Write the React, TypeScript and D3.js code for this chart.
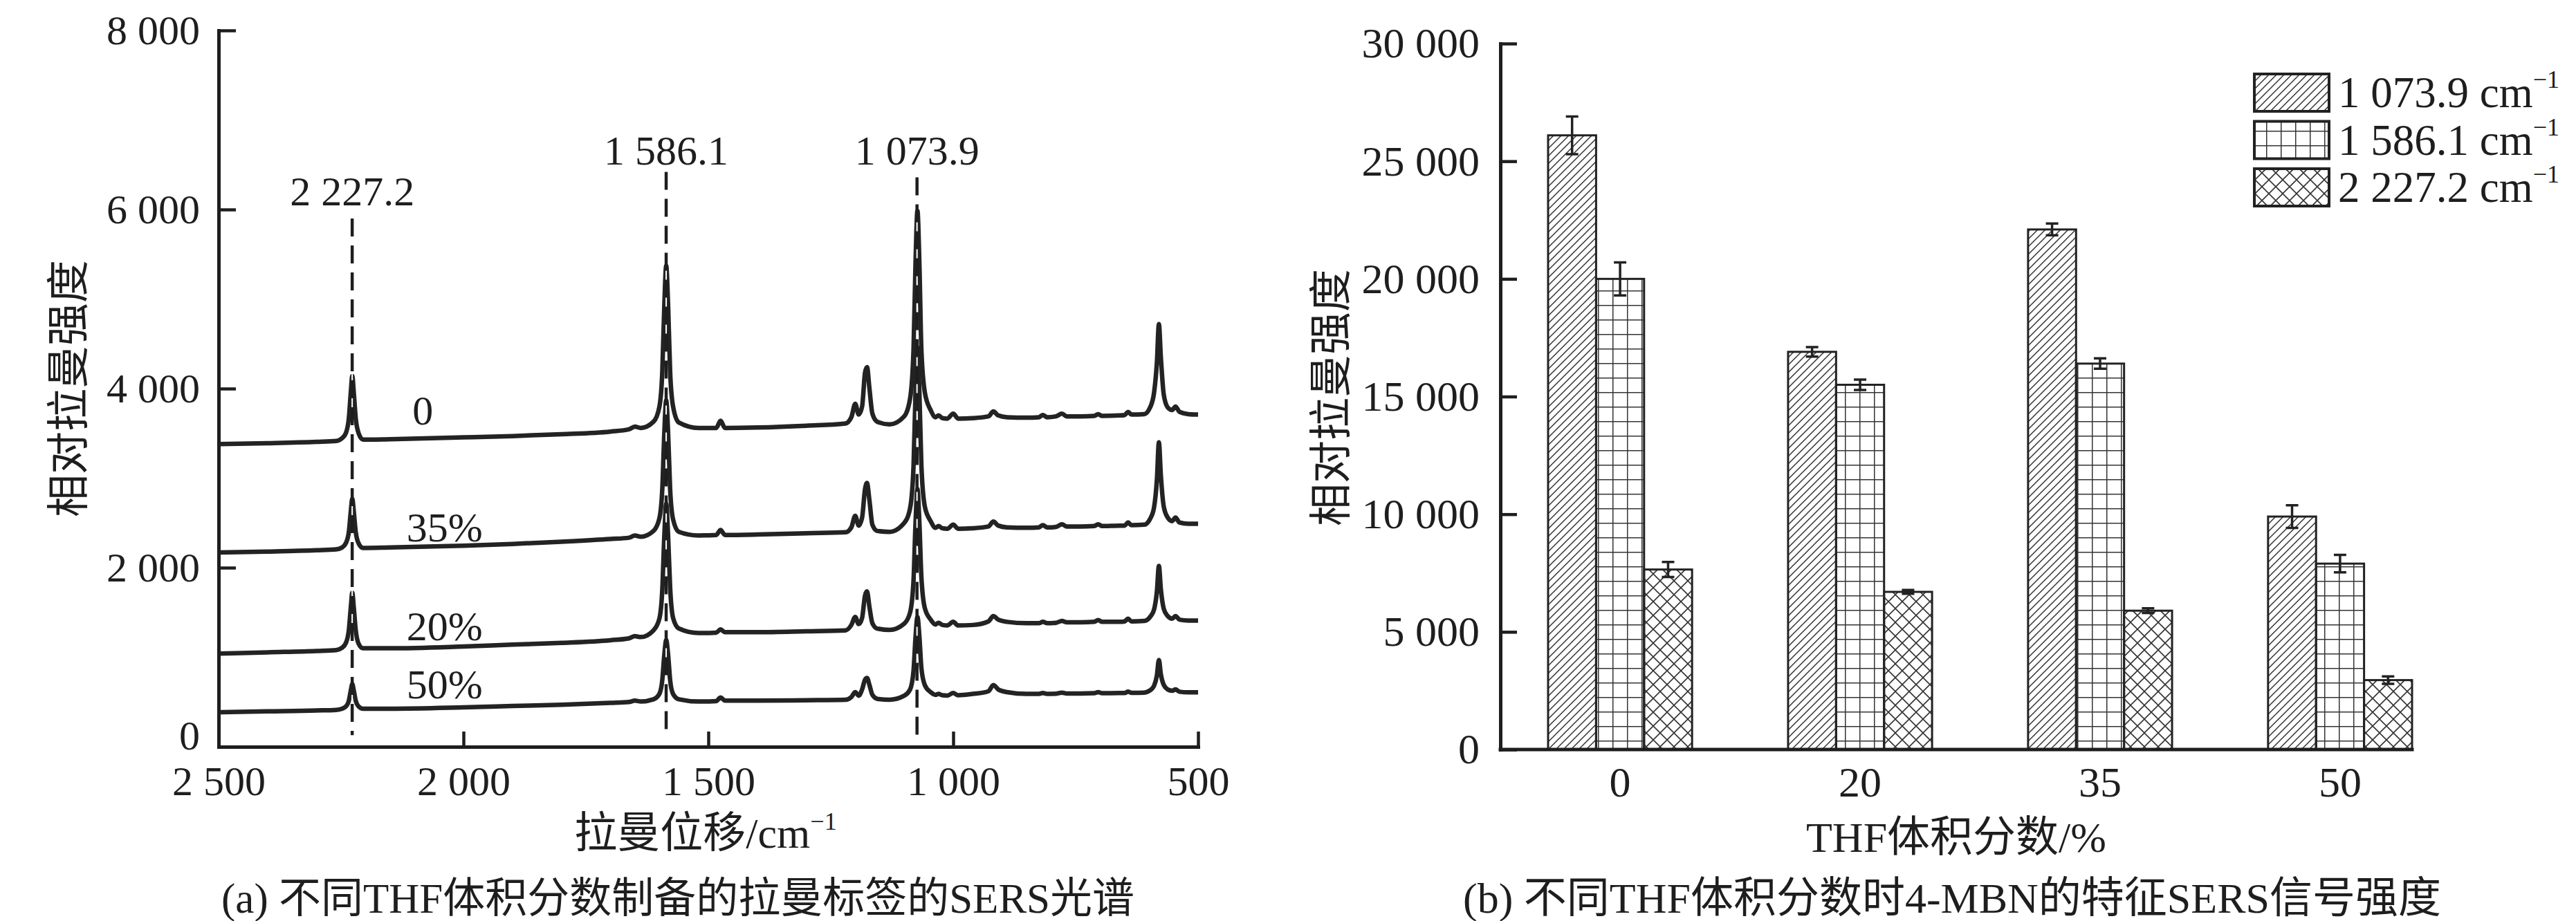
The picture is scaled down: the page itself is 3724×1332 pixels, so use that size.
import React, { useEffect, useRef } from 'react';
import * as d3 from 'd3';

// ---- (a) SERS spectra ----
// Raman shift grid (cm-1), shared by all four spectra
const shifts = [
  2500, 2400, 2300, 2260, 2248, 2240, 2234, 2230, 2227, 2224, 2220, 2214, 2205, 2150, 2000, 1900,
  1800, 1700, 1662, 1650, 1638, 1612, 1600, 1594, 1590, 1586, 1582, 1578, 1572, 1560, 1520, 1484,
  1475, 1466, 1400, 1300, 1220, 1208, 1200, 1193, 1186, 1180, 1176, 1171, 1165, 1155, 1130, 1100,
  1088, 1081, 1077, 1073, 1069, 1065, 1058, 1046, 1036, 1030, 1022, 1012, 1000, 990, 960, 928,
  918, 908, 890, 850, 825, 817, 808, 790, 778, 768, 740, 712, 704, 696, 660, 650,
  643, 636, 610, 598, 590, 584, 580, 576, 570, 562, 553, 546, 538, 520, 500,
];
const spec0 = [
  3380, 3390, 3405, 3415, 3445, 3505, 3670, 3960, 4140, 3960, 3670, 3500, 3430, 3435, 3455, 3470,
  3490, 3520, 3545, 3575, 3560, 3630, 3795, 4190, 4910, 5370, 4910, 4190, 3800, 3620, 3560, 3560,
  3640, 3560, 3565, 3585, 3610, 3680, 3830, 3710, 3800, 4180, 4240, 4000, 3720, 3630, 3600, 3690,
  3890, 4440, 5390, 5985, 5390, 4440, 3960, 3760, 3680, 3700, 3670, 3665, 3720, 3665, 3670, 3690,
  3745, 3700, 3680, 3675, 3680, 3705, 3680, 3690, 3720, 3690, 3690, 3695, 3715, 3695, 3700, 3705,
  3740, 3710, 3715, 3790, 3950, 4300, 4720, 4350, 3930, 3790, 3760, 3800, 3740, 3715, 3710,
];
const spec35 = [
  2170, 2180, 2195, 2205, 2225, 2275, 2400, 2630, 2770, 2630, 2400, 2270, 2220, 2225, 2245, 2265,
  2290, 2320, 2335, 2360, 2345, 2410, 2550, 2880, 3490, 3870, 3490, 2880, 2540, 2400, 2360, 2365,
  2420, 2365, 2370, 2385, 2395, 2450, 2580, 2470, 2560, 2880, 2945, 2750, 2480, 2410, 2400, 2500,
  2665, 3134, 3950, 4460, 3950, 3150, 2685, 2520, 2445, 2465, 2440, 2435, 2480, 2435, 2440, 2460,
  2515, 2470, 2450, 2445, 2450, 2475, 2450, 2455, 2485, 2460, 2460, 2465, 2485, 2465, 2470, 2470,
  2505, 2475, 2480, 2545, 2670, 2990, 3400, 3030, 2680, 2560, 2520, 2560, 2505, 2490, 2490,
];
const spec20 = [
  1040, 1055, 1070, 1080, 1105, 1160, 1305, 1560, 1720, 1560, 1305, 1150, 1100, 1100, 1120, 1140,
  1160, 1190, 1210, 1235, 1225, 1300, 1430, 1755, 2340, 2714, 2340, 1780, 1440, 1320, 1270, 1275,
  1310, 1280, 1280, 1290, 1300, 1360, 1450, 1370, 1440, 1690, 1735, 1560, 1380, 1320, 1305, 1375,
  1500, 1860, 2490, 2880, 2500, 1900, 1550, 1420, 1365, 1385, 1360, 1355, 1395, 1355, 1360, 1400,
  1460, 1420, 1395, 1380, 1380, 1395, 1380, 1385, 1405, 1390, 1390, 1395, 1415, 1395, 1395, 1400,
  1430, 1400, 1405, 1450, 1530, 1740, 2020, 1760, 1540, 1460, 1430, 1460, 1420, 1410, 1410,
];
const spec50 = [
  385, 395, 405, 412, 425, 450, 515, 630, 700, 630, 515, 450, 425, 425, 440, 455,
  470, 490, 500, 515, 505, 530, 590, 745, 1020, 1192, 1020, 745, 590, 530, 505, 510,
  550, 515, 515, 520, 525, 555, 610, 570, 640, 750, 769, 690, 580, 535, 525, 570,
  640, 850, 1220, 1450, 1230, 880, 690, 610, 580, 590, 575, 572, 600, 575, 590, 620,
  690, 640, 610, 590, 590, 600, 590, 592, 605, 595, 595, 598, 610, 598, 600, 600,
  615, 602, 605, 630, 680, 800, 970, 810, 690, 640, 625, 640, 615, 608, 608,
];
const spectra = [spec0, spec35, spec20, spec50];
const spectraLabels = ['0', '35%', '20%', '50%'];
const labelShift = [2104, 2116, 2116, 2116];
const labelLevel = [3600, 2290, 1190, 540];

const peakMarks = [2227.2, 1586.1, 1073.9];
const peakLabels = ['2 227.2', '1 586.1', '1 073.9'];
const markTop = [5900, 6420, 6360];
const markLabelAt = [6050, 6500, 6500];

const shiftTicks = [2500, 2000, 1500, 1000, 500];
const intensityTicks = [0, 2000, 4000, 6000, 8000];

// ---- (b) characteristic band intensities ----
const thfCats = ['0', '20', '35', '50'];
const bandNames = ['1 073.9', '1 586.1', '2 227.2'];
const band1074 = [26100, 16900, 22100, 9900];
const band1586 = [20000, 15500, 16400, 7900];
const band2227 = [7650, 6700, 5900, 2950];
const err1074 = [800, 200, 250, 480];
const err1586 = [700, 220, 220, 370];
const err2227 = [320, 80, 100, 160];
const barTicks = [0, 5000, 10000, 15000, 20000, 25000, 30000];

const W = 3724;
const H = 1332;
const FONT = '"Liberation Serif", "Times New Roman", "Noto Sans CJK SC", serif';
const INK = '#1e1e1e';

const fmt = (d: d3.NumberValue) => d3.format(',')(d as number).replace(/,/g, ' ');

const App: React.FC = () => {
  const svgRef = useRef<SVGSVGElement>(null);

  useEffect(() => {
    const svg = d3.select(svgRef.current);
    svg.selectAll('*').remove();
    svg.attr('width', W).attr('height', H).attr('font-family', FONT).style('background', '#fff');

    // hatch patterns
    const defs = svg.append('defs');
    const diag = defs.append('pattern').attr('id', 'p-diag').attr('patternUnits', 'userSpaceOnUse')
      .attr('width', 11).attr('height', 11);
    diag.append('path').attr('d', 'M-1,1 L1,-1 M0,11 L11,0 M10,12 L12,10')
      .attr('stroke', '#333').attr('stroke-width', 1.5);
    const grid = defs.append('pattern').attr('id', 'p-grid').attr('patternUnits', 'userSpaceOnUse')
      .attr('width', 21).attr('height', 21);
    grid.append('path').attr('d', 'M0,0.75 H21 M0.75,0 V21')
      .attr('stroke', '#333').attr('stroke-width', 1.5);
    const cross = defs.append('pattern').attr('id', 'p-cross').attr('patternUnits', 'userSpaceOnUse')
      .attr('width', 20).attr('height', 20);
    cross.append('path').attr('d', 'M0,0 L20,20 M20,0 L0,20')
      .attr('stroke', '#333').attr('stroke-width', 1.6);
    const fills = ['url(#p-diag)', 'url(#p-grid)', 'url(#p-cross)'];

    // ================= (a) spectra =================
    const xs = d3.scaleLinear().domain([2500, 500]).range([316, 1732]);
    const ys = d3.scaleLinear().domain([0, 8000]).range([1080, 44]);

    const gA = svg.append('g');

    const line = d3.line<[number, number]>()
      .x(d => xs(d[0]))
      .y(d => ys(d[1]))
      .curve(d3.curveMonotoneX);

    spectra.forEach(s => {
      gA.append('path')
        .datum(d3.zip(shifts, s) as [number, number][])
        .attr('d', line)
        .attr('fill', 'none')
        .attr('stroke', '#232323')
        .attr('stroke-width', 6.5)
        .attr('stroke-linejoin', 'round');
    });

    // dashed peak markers
    peakMarks.forEach((p, i) => {
      gA.append('line')
        .attr('x1', xs(p)).attr('x2', xs(p))
        .attr('y1', ys(markTop[i])).attr('y2', ys(130))
        .attr('stroke', '#fff').attr('stroke-width', 2);
      gA.append('line')
        .attr('x1', xs(p)).attr('x2', xs(p))
        .attr('y1', ys(markTop[i])).attr('y2', ys(130))
        .attr('stroke', INK).attr('stroke-width', 4.5)
        .attr('stroke-dasharray', '26 13');
      gA.append('text')
        .attr('x', xs(p)).attr('y', ys(markLabelAt[i]))
        .attr('text-anchor', 'middle').attr('font-size', 60).attr('fill', INK)
        .text(peakLabels[i]);
    });

    spectraLabels.forEach((t, i) => {
      gA.append('text')
        .attr('x', xs(labelShift[i])).attr('y', ys(labelLevel[i]))
        .attr('font-size', 60).attr('fill', INK)
        .text(t);
    });

    const xAxA = gA.append('g').attr('transform', 'translate(0,1080)')
      .call(d3.axisBottom(xs).tickValues(shiftTicks).tickSizeInner(-22).tickSizeOuter(0)
        .tickPadding(27).tickFormat(fmt));
    const yAxA = gA.append('g').attr('transform', 'translate(316,0)')
      .call(d3.axisLeft(ys).tickValues(intensityTicks).tickSizeInner(-25).tickSizeOuter(0)
        .tickPadding(27).tickFormat(fmt));
    [xAxA, yAxA].forEach(ax => {
      ax.attr('font-family', FONT).attr('font-size', 60);
      ax.select('.domain').attr('stroke', INK).attr('stroke-width', 5).attr('stroke-linecap', 'square');
      ax.selectAll('.tick line').attr('stroke', INK).attr('stroke-width', 4.5);
      ax.selectAll('.tick text').attr('fill', INK);
    });
    // the "0" label sits a little above the x axis, clear of "2 500"
    yAxA.selectAll<SVGTextElement, number>('.tick text').filter(d => d === 0).attr('y', -16);

    gA.append('text')
      .attr('transform', 'translate(100,562) rotate(-90)')
      .attr('text-anchor', 'middle').attr('dominant-baseline', 'central')
      .attr('font-size', 62).attr('fill', INK)
      .text('相对拉曼强度');

    const xtA = gA.append('text')
      .attr('x', 1020).attr('y', 1226).attr('text-anchor', 'middle')
      .attr('font-size', 62).attr('fill', INK);
    xtA.append('tspan').text('拉曼位移/cm');
    xtA.append('tspan').attr('dy', -26).attr('font-size', 36).text('−1');

    gA.append('text')
      .attr('x', 980).attr('y', 1320).attr('text-anchor', 'middle')
      .attr('font-size', 61).attr('fill', INK)
      .text('(a) 不同THF体积分数制备的拉曼标签的SERS光谱');

    // ================= (b) bars =================
    const values = [band1074, band1586, band2227];
    const errors = [err1074, err1586, err2227];
    const xb = d3.scaleBand().domain(thfCats).range([2238, 3487]).paddingInner(0.4).paddingOuter(0);
    const xsub = d3.scaleBand<number>().domain([0, 1, 2]).range([0, xb.bandwidth()]);
    const yb = d3.scaleLinear().domain([0, 30000]).range([1084, 63]);

    const gB = svg.append('g');

    values.forEach((vals, s) => {
      gB.selectAll(`rect.s${s}`)
        .data(vals)
        .enter()
        .append('rect')
        .attr('x', (_, i) => (xb(thfCats[i]) || 0) + (xsub(s) || 0))
        .attr('y', d => yb(d))
        .attr('width', xsub.bandwidth())
        .attr('height', d => yb(0) - yb(d))
        .attr('fill', fills[s])
        .attr('stroke', '#222')
        .attr('stroke-width', 3);
    });

    values.forEach((vals, s) => {
      vals.forEach((v, i) => {
        const cx = (xb(thfCats[i]) || 0) + (xsub(s) || 0) + xsub.bandwidth() / 2;
        const lo = yb(v - errors[s][i]);
        const hi = yb(v + errors[s][i]);
        gB.append('path')
          .attr('d', `M${cx},${lo}V${hi}M${cx - 9},${lo}H${cx + 9}M${cx - 9},${hi}H${cx + 9}`)
          .attr('fill', 'none').attr('stroke', '#222').attr('stroke-width', 3.5);
      });
    });

    // axes
    gB.append('line')
      .attr('x1', 2169).attr('x2', 3487).attr('y1', yb(0)).attr('y2', yb(0))
      .attr('stroke', INK).attr('stroke-width', 5).attr('stroke-linecap', 'square');
    const yAxB = gB.append('g').attr('transform', 'translate(2169,0)')
      .call(d3.axisLeft(yb).tickValues(barTicks).tickSizeInner(-24).tickSizeOuter(0)
        .tickPadding(30).tickFormat(fmt));
    yAxB.attr('font-family', FONT).attr('font-size', 62);
    yAxB.select('.domain').attr('stroke', INK).attr('stroke-width', 5).attr('stroke-linecap', 'square');
    yAxB.selectAll('.tick line').attr('stroke', INK).attr('stroke-width', 4.5);
    yAxB.selectAll('.tick text').attr('fill', INK);

    gB.selectAll('text.cat')
      .data(thfCats)
      .enter()
      .append('text')
      .attr('x', d => (xb(d) || 0) + xb.bandwidth() / 2)
      .attr('y', 1152)
      .attr('text-anchor', 'middle').attr('font-size', 62).attr('fill', INK)
      .text(d => d);

    gB.append('text')
      .attr('transform', 'translate(1925,575) rotate(-90)')
      .attr('text-anchor', 'middle').attr('dominant-baseline', 'central')
      .attr('font-size', 62).attr('fill', INK)
      .text('相对拉曼强度');

    gB.append('text')
      .attr('x', 2828).attr('y', 1232).attr('text-anchor', 'middle')
      .attr('font-size', 62).attr('fill', INK)
      .text('THF体积分数/%');

    gB.append('text')
      .attr('x', 2822).attr('y', 1320).attr('text-anchor', 'middle')
      .attr('font-size', 62).attr('fill', INK)
      .text('(b) 不同THF体积分数时4-MBN的特征SERS信号强度');

    // legend
    bandNames.forEach((name, i) => {
      const top = 107 + i * 68.5;
      gB.append('rect')
        .attr('x', 3259).attr('y', top).attr('width', 108).attr('height', 54)
        .attr('fill', fills[i]).attr('stroke', '#222').attr('stroke-width', 4);
      const t = gB.append('text')
        .attr('x', 3380).attr('y', top + 48)
        .attr('font-size', 63).attr('fill', INK);
      t.append('tspan').text(`${name} cm`);
      t.append('tspan').attr('dy', -28).attr('font-size', 36).text('−1');
    });
  }, []);

  return (
    <div style={{ position: 'absolute', left: 0, top: 0, background: '#fff' }}>
      <svg ref={svgRef}></svg>
    </div>
  );
};

export default App;
